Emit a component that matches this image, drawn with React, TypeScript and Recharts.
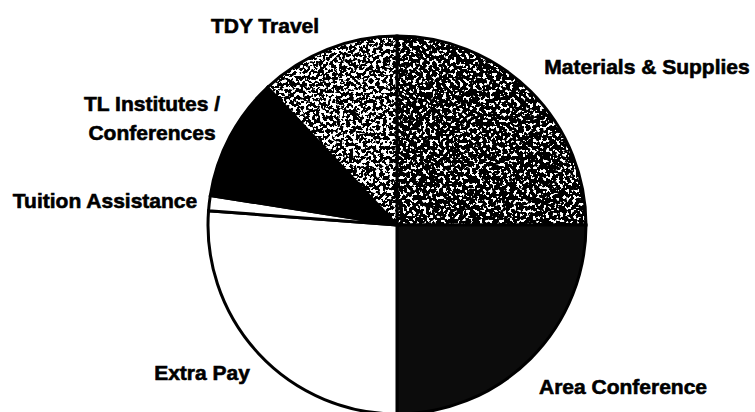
import React from 'react';
import { PieChart, Pie, Cell } from 'recharts';

// Data (percent shares, read clockwise from 12 o'clock)
const categories = [
  'Materials & Supplies',
  'Area Conference',
  'Extra Pay',
  'Tuition Assistance',
  'TL Institutes / Conferences',
  'TDY Travel',
];
const shares = [25, 25, 26.2, 1.3, 10.5, 12.0];
const labelLines = [
  ['Materials & Supplies'],
  ['Area Conference'],
  ['Extra Pay'],
  ['Tuition Assistance'],
  ['TL Institutes /', 'Conferences'],
  ['TDY Travel'],
];

// Styles / layout
const FILLS = ['url(#stippleDark)', '#0c0c0c', '#ffffff', '#ffffff', '#000000', 'url(#stippleLight)'];
const LABEL_LAYOUT = [
  { dx: 250, dy: -151 },
  { dx: 226, dy: 169 },
  { dx: -195, dy: 155 },
  { dx: -292, dy: -17 },
  { dx: -245, dy: -114 },
  { dx: -132, dy: -192 },
];
const W = 755;
const H = 412;

function NoiseDefs() {
  const thr = (id: string, t: number, seed: number) => {
    const slope = 30;
    const intercept = 0.5 - slope * t;
    return (
      <filter id={id} x="0" y="0" width="1" height="1" colorInterpolationFilters="sRGB">
        <feTurbulence type="fractalNoise" baseFrequency="0.3" numOctaves={2} seed={seed} />
        <feColorMatrix type="matrix" values="1 0 0 0 0  1 0 0 0 0  1 0 0 0 0  0 0 0 0 1" />
        <feComponentTransfer>
          <feFuncR type="linear" slope={slope} intercept={intercept} />
          <feFuncG type="linear" slope={slope} intercept={intercept} />
          <feFuncB type="linear" slope={slope} intercept={intercept} />
        </feComponentTransfer>
      </filter>
    );
  };
  return (
    <svg width={0} height={0} style={{ position: 'absolute' }}>
      <defs>
        {thr('noiseDark', 0.58, 7)}
        {thr('noiseLight', 0.52, 11)}
        <pattern id="stippleDark" patternUnits="userSpaceOnUse" width={W} height={H}>
          <rect x={0} y={0} width={W} height={H} fill="#000" filter="url(#noiseDark)" />
        </pattern>
        <pattern id="stippleLight" patternUnits="userSpaceOnUse" width={W} height={H}>
          <rect x={0} y={0} width={W} height={H} fill="#000" filter="url(#noiseLight)" />
        </pattern>
      </defs>
    </svg>
  );
}

export default function App() {
  const data = categories.map((name, i) => ({ name, value: shares[i] }));

  const renderLabel = (props: any) => {
    const { cx, cy, index } = props;
    const pos = LABEL_LAYOUT[index];
    const x = cx + pos.dx;
    return (
      <text
        key={`lbl-${index}`}
        x={x}
        y={cy + pos.dy}
        textAnchor="middle"
        fontFamily="'Liberation Sans', Arial, sans-serif"
        fontWeight="bold"
        fontSize={21}
        fill="#000"
        stroke="#000"
        strokeWidth={0.6}
      >
        {labelLines[index].map((l, j) => (
          <tspan key={j} x={x} dy={j === 0 ? 0 : 29}>
            {l}
          </tspan>
        ))}
      </text>
    );
  };

  return (
    <div style={{ position: 'absolute', left: 0, top: 0, width: W, height: H, background: '#fff' }}>
      <NoiseDefs />
      <PieChart width={W} height={H} margin={{ top: 0, right: 0, bottom: 0, left: 0 }}>
        <Pie
          data={data}
          dataKey="value"
          nameKey="name"
          cx={397}
          cy={225}
          outerRadius={189}
          startAngle={90}
          endAngle={-270}
          label={renderLabel}
          labelLine={false}
          isAnimationActive={false}
        >
          {data.map((d, i) => (
            <Cell key={d.name} fill={FILLS[i]} stroke="#000" strokeWidth={3} />
          ))}
        </Pie>
      </PieChart>
    </div>
  );
}
